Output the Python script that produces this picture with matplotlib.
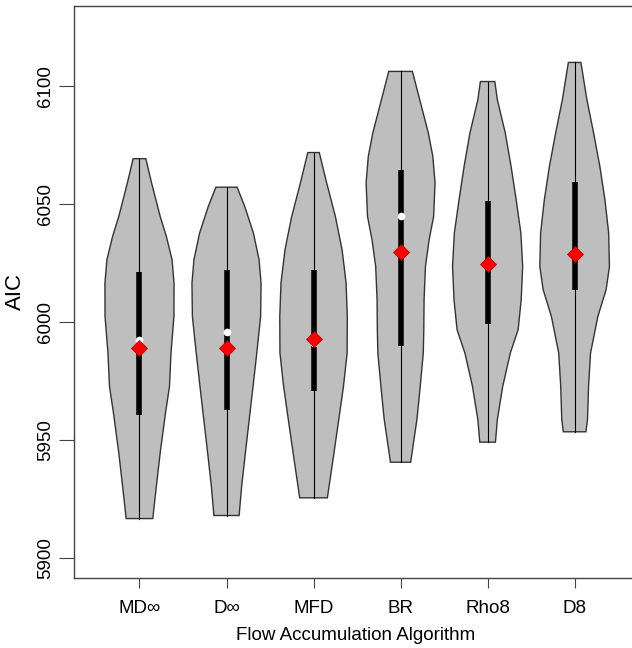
import matplotlib
matplotlib.use("Agg")
import matplotlib.pyplot as plt
import numpy as np

plt.rcParams['font.family'] = ['Liberation Sans', 'DejaVu Sans']

# algorithms on the x axis
algos = ["MD∞", "D∞", "MFD", "BR", "Rho8", "D8"]

# violin outlines: AIC levels (top -> bottom) and half widths
prof_y = [
    [6069.4, 6059.1, 6044.9, 6036.4, 6026.6, 6016.7, 6002.5, 5987.0, 5972.9, 5961.6, 5944.7, 5930.5, 5916.8],
    [6057.3, 6049.2, 6037.9, 6026.6, 6016.7, 6002.5, 5987.0, 5972.9, 5958.8, 5944.7, 5930.5, 5918.1],
    [6072.0, 6059.1, 6044.9, 6030.8, 6016.7, 6002.5, 5987.0, 5972.9, 5958.8, 5944.7, 5925.6],
    [6106.4, 6094.4, 6080.3, 6070.3, 6059.1, 6044.9, 6035.0, 6023.7, 6009.6, 5996.9, 5987.0, 5972.9, 5958.8, 5940.7],
    [6102.1, 6094.4, 6080.3, 6066.1, 6052.0, 6037.9, 6023.7, 6009.6, 5996.9, 5987.0, 5972.9, 5958.8, 5949.2],
    [6110.2, 6094.4, 6080.3, 6066.1, 6052.0, 6037.9, 6023.7, 6013.9, 6002.5, 5987.0, 5972.9, 5958.8, 5953.6],
]
prof_w = [
    [0.073, 0.139, 0.238, 0.309, 0.374, 0.397, 0.396, 0.362, 0.345, 0.299, 0.238, 0.194, 0.153],
    [0.122, 0.209, 0.309, 0.374, 0.397, 0.392, 0.348, 0.305, 0.261, 0.217, 0.174, 0.145],
    [0.066, 0.151, 0.251, 0.328, 0.374, 0.388, 0.386, 0.344, 0.290, 0.235, 0.159],
    [0.136, 0.220, 0.319, 0.371, 0.396, 0.380, 0.328, 0.286, 0.270, 0.267, 0.261, 0.226, 0.188, 0.116],
    [0.083, 0.112, 0.203, 0.270, 0.328, 0.382, 0.403, 0.386, 0.351, 0.261, 0.174, 0.112, 0.090],
    [0.072, 0.141, 0.218, 0.290, 0.348, 0.391, 0.400, 0.362, 0.267, 0.183, 0.160, 0.148, 0.130],
]

# quartiles, medians, means
q1 = [5960.6, 5963.0, 5970.8, 5990.1, 5999.4, 6013.9]
q3 = [6021.4, 6022.0, 6022.0, 6064.4, 6051.6, 6059.7]
medians = [5992.5, 5995.9, 5991.3, 6044.9, 6024.0, 6029.0]
means = [5989.0, 5989.2, 5993.0, 6029.8, 6024.9, 6029.1]

fig = plt.figure(figsize=(6.32, 6.48), dpi=100)
ax = fig.add_axes([0.117, 0.108, 0.89, 0.883])

for i in range(len(algos)):
    pos = i + 1
    y = np.array(prof_y[i])
    w = np.array(prof_w[i])
    xs = np.concatenate([pos - w, (pos + w)[::-1]])
    ys = np.concatenate([y, y[::-1]])
    ax.fill(xs, ys, facecolor='#bebebe', edgecolor='#333333', linewidth=1.0, zorder=2)
    # whisker = full range
    ax.plot([pos, pos], [y.min(), y.max()], color='black', linewidth=0.8, zorder=3)
    ax.plot([pos, pos], [q1[i], q3[i]], color='black', linewidth=4.0, solid_capstyle='butt', zorder=4)
    ax.plot(pos, medians[i], 'o', color='white', markersize=5.5, markeredgewidth=0, zorder=5)
    ax.plot(pos, means[i], 'D', markerfacecolor='red', markeredgecolor='#aa0000',
            markeredgewidth=0.5, markersize=8, zorder=6)

ax.set_xlim(0.247, 6.71)
ax.set_ylim(5891.6, 6134.2)
ax.set_xticks(range(1, len(algos) + 1))
ax.set_xticklabels(algos)
ax.set_yticks([5900, 5950, 6000, 6050, 6100])
ax.tick_params(axis='y', labelsize=13.5, length=11, width=0.8, color='#444444', pad=3,
               labelrotation=90)
for lab in ax.get_yticklabels():
    lab.set_va('center')
ax.tick_params(axis='x', labelsize=13.5, length=7, width=0.8, color='#444444', pad=9)
for s in ['left', 'top', 'bottom']:
    ax.spines[s].set_color('#444444')
    ax.spines[s].set_linewidth(1.0)
ax.spines['right'].set_visible(False)

ax.set_xlabel("Flow Accumulation Algorithm", fontsize=13.5, labelpad=7)
ax.set_ylabel("AIC", fontsize=16, labelpad=8)

fig.savefig("out.png", dpi=100)
